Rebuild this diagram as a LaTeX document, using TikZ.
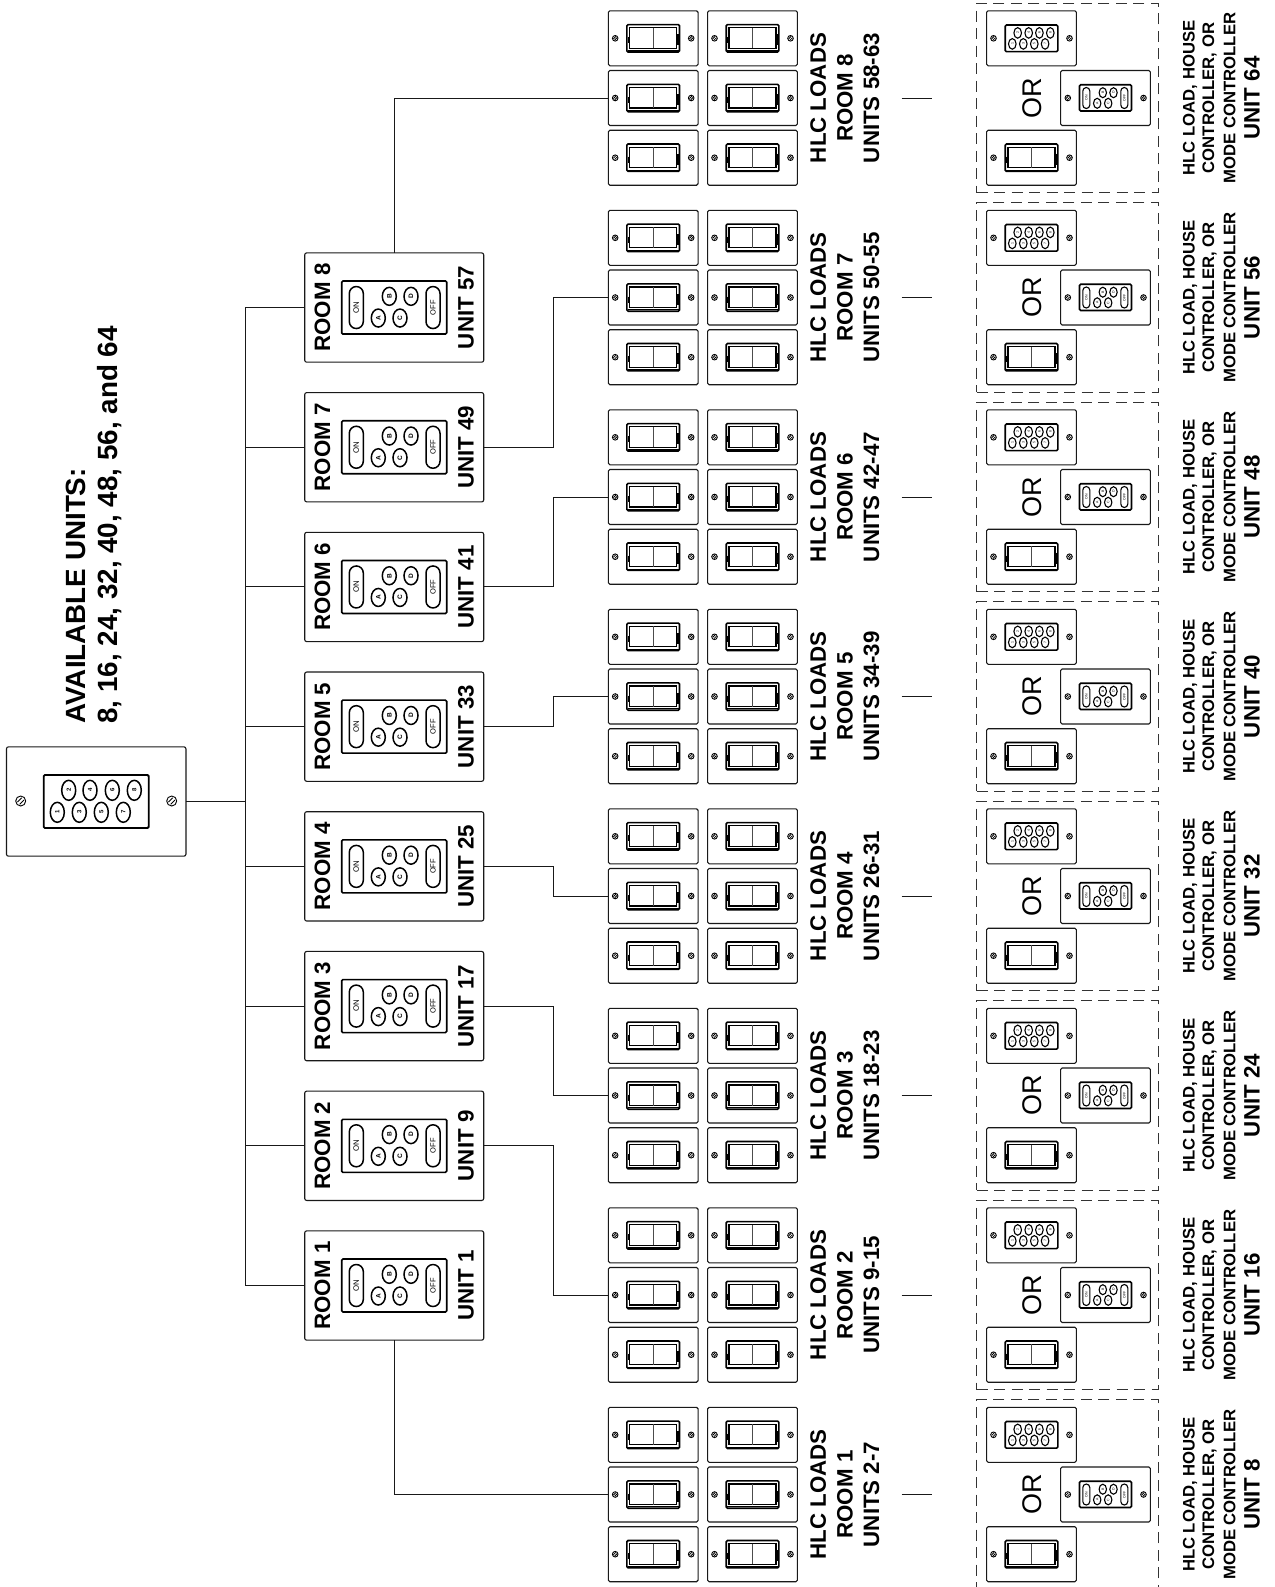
\documentclass[tikz,border=0pt]{standalone}
\usepackage{fontspec}
\setmainfont{Liberation Sans}
\newdimen\uu \uu=0.02cm
\newcommand\pxf[1]{\fontsize{#1\uu}{#1\uu}\selectfont}
\tikzset{
 plate/.style={draw=black!90,line width=1.1\uu,rounded corners=1.5\uu,minimum width=89.7\uu,minimum height=55\uu,inner sep=0pt,outer sep=0pt},
 roomplate/.style={draw=black!90,line width=1.1\uu,rounded corners=2\uu,minimum width=179\uu,minimum height=109.3\uu,inner sep=0pt,outer sep=0pt},
 mainplate/.style={draw=black!90,line width=1.1\uu,rounded corners=2\uu,minimum width=179.5\uu,minimum height=109.3\uu,inner sep=0pt,outer sep=0pt},
 dashbox/.style={draw=black!80,line width=1\uu,dash pattern=on 11\uu off 6.5\uu,minimum width=181.6\uu,minimum height=189.4\uu,inner sep=0pt,outer sep=0pt},
 wire/.style={draw=black!90,line width=1\uu},
 key/.style={draw=black,line width=1.6\uu,rounded corners=1.2\uu},
 rot/.style={rotate=90,inner sep=0pt,outer sep=0pt},
 lab/.style={rot,font=\pxf{22.3}\bfseries},
 sublab/.style={rot,font=\pxf{16.7}\bfseries},
 orlab/.style={rot,font=\pxf{27}},
}
% screw: x, y, radius
\newcommand\mkscrew[3]{%
 \draw[black,line width=.9\uu] (#1,#2) circle[radius=#3];
 \draw[black,line width=.8\uu] ({#1-.65*#3},{#2+.2*#3}) -- ({#1+.2*#3},{#2-.65*#3});
 \draw[black,line width=.8\uu] ({#1-.2*#3},{#2+.65*#3}) -- ({#1+.65*#3},{#2-.2*#3});
}
% button: x, y, rx, ry, line width, font size, text
\newcommand\mkbtn[7]{%
 \draw[black,line width=#5\uu] (#1,#2) ellipse[x radius=#3,y radius=#4];
 \node[rot,font=\pxf{#6}] at (#1,#2) {#7};
}
% pill: x, y, half w, half h, lw, font size, text
\newcommand\mkpill[7]{%
 \draw[black,line width=#5\uu,rounded corners=#3\uu] ({#1-#3},{#2-#4}) rectangle ({#1+#3},{#2+#4});
 \node[rot,font=\pxf{#6}] at (#1,#2) {#7};
}
% rocker switch centred at x,y
\newcommand\mkswitch[2]{%
 \draw[key] ({#1-26.3},{#2-13.7}) rectangle ({#1+26.3},{#2+13.7});
 \draw[black,line width=1.1\uu] ({#1-23.5},{#2-10.5}) rectangle ({#1+23.5},{#2+10});
 \draw[black,line width=1\uu] ({#1-25.5},{#2+12.4}) -- ({#1+25.5},{#2+12.4});
 \draw[black,line width=1.2\uu] ({#1-24.7},{#2-1}) -- ({#1-24.7},{#2+5});
 \draw[black,line width=1.2\uu] ({#1+24.7},{#2-4}) -- ({#1+24.7},{#2+7});
 \draw[black!70,line width=.9\uu] (#1,{#2-10.5}) -- (#1,{#2+10});
}
% switch plate: name, x, y
\newcommand\mkswplate[3]{%
 \node[plate] (#1) at (#2,#3) {};
 \mkscrew{#2-38}{#3}{2.8}
 \mkscrew{#2+38}{#3}{2.8}
 \mkswitch{#2}{#3}
}
% small eight-key plate
\newcommand\mkeightplate[3]{%
 \node[plate] (#1) at (#2,#3) {};
 \mkscrew{#2-38}{#3}{2.8}
 \mkscrew{#2+38}{#3}{2.8}
 \draw[key] ({#2-26.3},{#3-13.3}) rectangle ({#2+26.3},{#3+13.3});
 \foreach \bx/\bt in {-13.8/2,-2.8/4,7.9/6,18.8/8}{\mkbtn{#2+\bx}{#3-5.4}{3.8}{5.3}{1.1}{3.5}{\bt}}
 \foreach \bx/\bt in {-19.2/1,-8.2/3,2.8/5,13.6/7}{\mkbtn{#2+\bx}{#3+5.6}{3.8}{5.3}{1.1}{3.5}{\bt}}
}
% small room-key plate
\newcommand\mkroomplate[3]{%
 \node[plate] (#1) at (#2,#3) {};
 \mkscrew{#2-37.7}{#3}{2.8}
 \mkscrew{#2+38}{#3}{2.8}
 \draw[key] ({#2-26},{#3-13.3}) rectangle ({#2+26},{#3+13});
 \mkpill{#2-19.2}{#3}{3.5}{10.5}{1.1}{3.5}{ON}
 \mkpill{#2+18.8}{#3}{3.5}{10.5}{1.1}{3.5}{OFF}
 \mkbtn{#2-2.7}{#3-5.3}{3.7}{5}{1.1}{3.5}{B}
 \mkbtn{#2+8}{#3-5.3}{3.7}{5}{1.1}{3.5}{D}
 \mkbtn{#2-8.3}{#3+5.3}{3.7}{5}{1.1}{3.5}{A}
 \mkbtn{#2+2.7}{#3+5.3}{3.7}{5}{1.1}{3.5}{C}
}
\begin{document}
\begin{tikzpicture}[x=0.02cm,y=-0.02cm]
\clip (0,0) rectangle (1275,1587);
\fill[white] (0,0) rectangle (1275,1587);
% title
\node[rot,anchor=west,font=\pxf{27.8}\bfseries] (title1) at (76,723.5) {AVAILABLE UNITS:};
\node[rot,anchor=west,font=\pxf{27.8}\bfseries] (title2) at (110,723.5) {8, 16, 24, 32, 40, 48, 56, and 64};
% main keypad
\node[mainplate] (main) at (96.2,801.5) {};
\mkscrew{20.7}{801}{5}
\mkscrew{171.7}{801}{5}
\draw[key,line width=1.8\uu] (43.7,775) rectangle (148.7,828);
\foreach \bx/\bt in {68.7/2,90/4,112.3/6,134.3/8}{\mkbtn{\bx}{790.3}{7}{10}{1.5}{6}{\textbf{\bt}}}
\foreach \bx/\bt in {57.3/1,79.3/3,101.3/5,123.3/7}{\mkbtn{\bx}{812.3}{7}{10}{1.5}{6}{\textbf{\bt}}}
% bus
\coordinate (bustop) at (245,307.5);
\coordinate (busbot) at (245,1285.5);
\coordinate (busmid) at (245,801.5);
\draw[wire] (bustop) -- (busbot);
\draw[wire] (main.east) -- (busmid);
% groups
\foreach \g/\ua/\ub/\uc in {1/1/2-7/8,2/9/9-15/16,3/17/18-23/24,4/25/26-31/32,5/33/34-39/40,6/41/42-47/48,7/49/50-55/56,8/57/58-63/64}{
 \pgfmathsetmacro\yc{98+(8-\g)*199.5}
 \pgfmathsetmacro\yr{1285.5-(\g-1)*139.71}
 \pgfmathsetmacro\yu{\yc-59.7}
 \pgfmathsetmacro\yd{\yc+59.7}
 % room keypad
 \node[roomplate] (room\g) at (394.2,\yr) {};
 \draw[key] (341.7,\yr-26.5) rectangle (446.7,\yr+26.5);
 \mkpill{356.3}{\yr}{7}{21}{1.5}{7.8}{ON}
 \mkpill{433}{\yr}{7}{21}{1.5}{7.5}{OFF}
 \mkbtn{378.3}{\yr+10.5}{7}{9}{1.5}{6.5}{\textbf{A}}
 \mkbtn{389.3}{\yr-11.2}{7}{9}{1.5}{6.5}{\textbf{B}}
 \mkbtn{400}{\yr+10.5}{7}{9}{1.5}{6.5}{\textbf{C}}
 \mkbtn{411}{\yr-11.2}{7}{9}{1.5}{6.5}{\textbf{D}}
 \node[lab] (roomlab\g) at (322.5,\yr) {ROOM \g};
 \node[lab] (unitlab\g) at (466,\yr) {UNIT \ua};
 \coordinate (tap\g) at (245,\yr);
 \draw[wire] (tap\g) -- (room\g.west);
 % loads
 \mkswplate{loadAa\g}{653.2}{\yu}
 \mkswplate{loadAb\g}{653.2}{\yc}
 \mkswplate{loadAc\g}{653.2}{\yd}
 \mkswplate{loadBa\g}{752.5}{\yu}
 \mkswplate{loadBb\g}{752.5}{\yc}
 \mkswplate{loadBc\g}{752.5}{\yd}
 \node[lab] (hlc\g) at (818.3,\yc) {HLC LOADS};
 \node[lab] (rl\g) at (845,\yc) {ROOM \g};
 \node[lab] (ul\g) at (871.5,\yc) {UNITS \ub};
 % last unit options
 \node[dashbox] (opt\g) at (1067.5,\yc) {};
 \coordinate (tickA\g) at (901.7,\yc);
 \coordinate (tickB\g) at (932,\yc);
 \draw[wire] (tickA\g) -- (tickB\g);
 \mkeightplate{optkeys\g}{1031.5}{\yu}
 \mkroomplate{optroom\g}{1105.5}{\yc}
 \mkswplate{optsw\g}{1031.5}{\yd}
 \node[orlab] (or\g) at (1031.7,\yc) {OR};
 \node[sublab] (rta\g) at (1190,\yc) {HLC LOAD, HOUSE};
 \node[sublab] (rtb\g) at (1209.5,\yc) {CONTROLLER, OR};
 \node[sublab] (rtc\g) at (1229.5,\yc) {MODE CONTROLLER};
 \node[lab] (rtd\g) at (1252,\yc) {UNIT \uc};
}
% room to load connectors
\draw[wire] (room1.south) |- (loadAb1.west);
\draw[wire] (room8.north) |- (loadAb8.west);
\foreach \g in {2,...,7}{
 \coordinate (elbow\g) at (553.5,0 |- room\g.east);
 \draw[wire] (room\g.east) -- (elbow\g) |- (loadAb\g.west);
}
\end{tikzpicture}
\end{document}
